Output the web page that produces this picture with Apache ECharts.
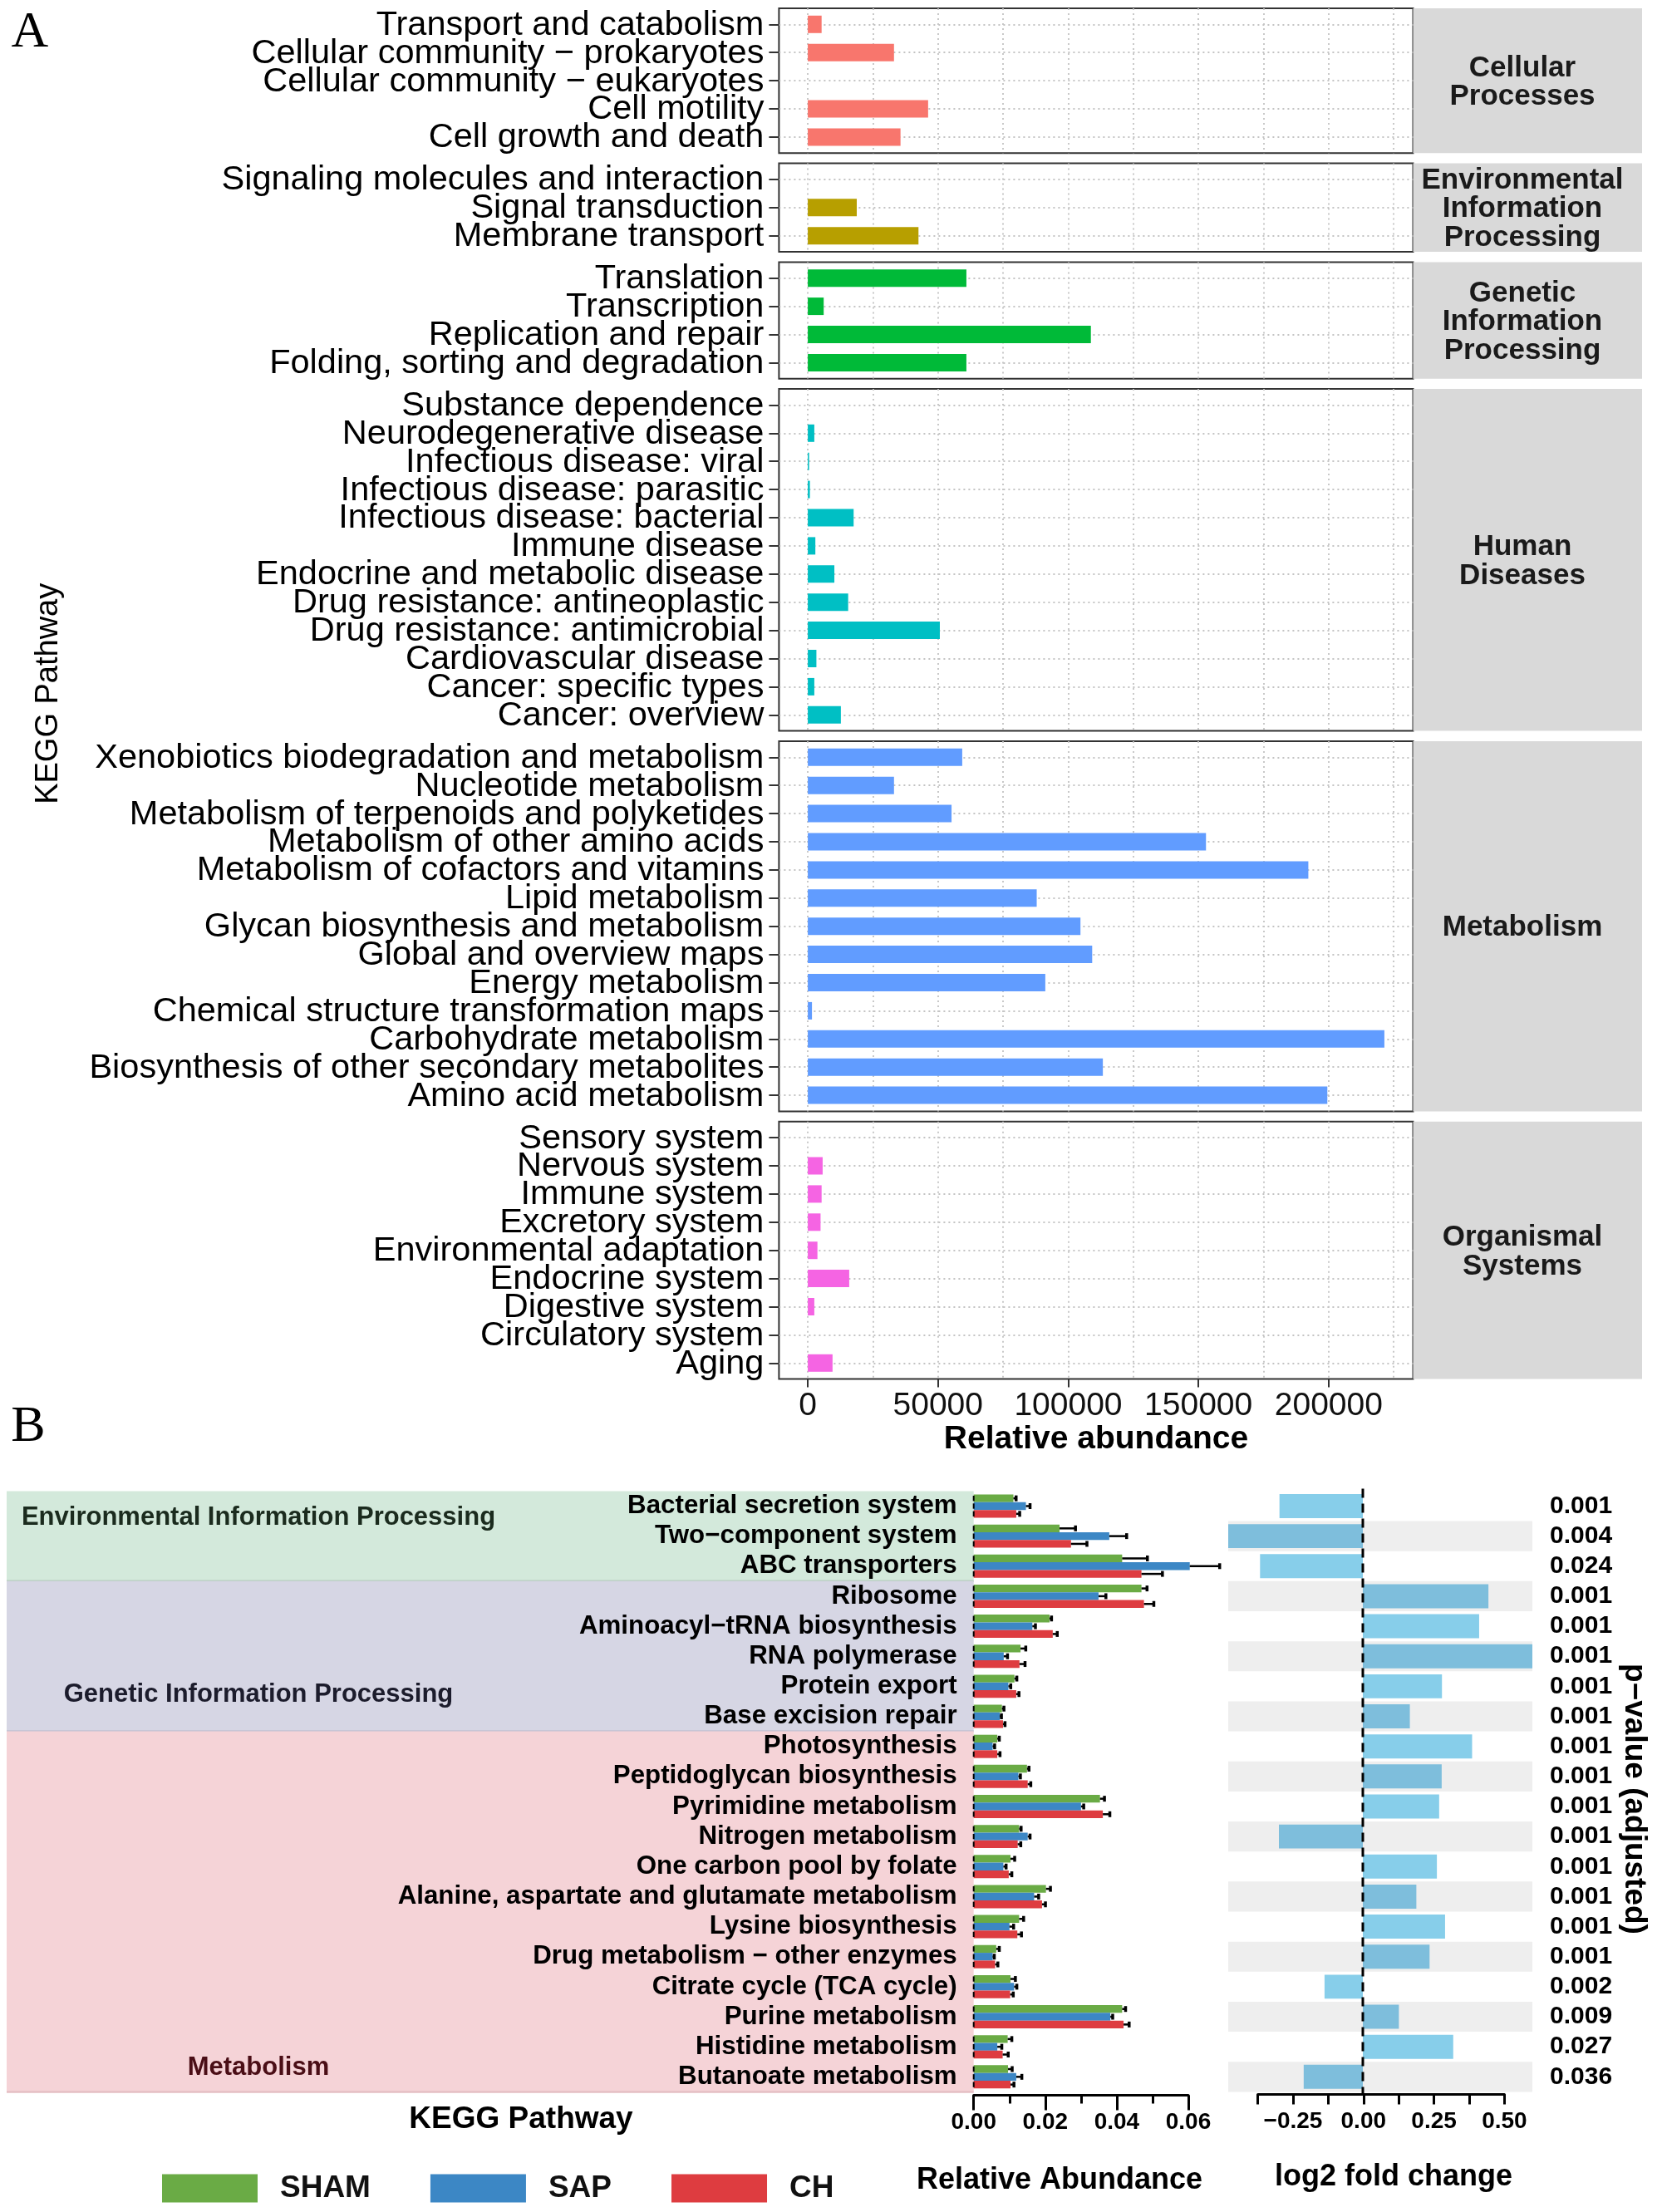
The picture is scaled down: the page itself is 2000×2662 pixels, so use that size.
<!DOCTYPE html>
<html><head><meta charset="utf-8">
<script src="https://cdn.jsdelivr.net/npm/echarts@6.0.0/dist/echarts.min.js"></script>
<style>html,body{margin:0;padding:0;background:#fff}#c{width:2000px;height:2662px}</style>
</head><body><div id="c"></div><script>
const FONT = '"Liberation Sans", Arial, Helvetica, sans-serif';
const SERIF = '"Liberation Serif", "Times New Roman", serif';

// ---------------- Panel A data ----------------
const cellularCats = ['Transport and catabolism','Cellular community \u2212 prokaryotes','Cellular community \u2212 eukaryotes','Cell motility','Cell growth and death'];
const cellularVals = [5300, 33100, 0, 46200, 35600];
const envCats = ['Signaling molecules and interaction','Signal transduction','Membrane transport'];
const envVals = [0, 18800, 42500];
const geneticCats = ['Translation','Transcription','Replication and repair','Folding, sorting and degradation'];
const geneticVals = [60900, 6100, 108700, 60900];
const humanCats = ['Substance dependence','Neurodegenerative disease','Infectious disease: viral','Infectious disease: parasitic','Infectious disease: bacterial','Immune disease','Endocrine and metabolic disease','Drug resistance: antineoplastic','Drug resistance: antimicrobial','Cardiovascular disease','Cancer: specific types','Cancer: overview'];
const humanVals = [0, 2500, 500, 800, 17600, 2900, 10200, 15500, 50700, 3300, 2500, 12700];
const metabCats = ['Xenobiotics biodegradation and metabolism','Nucleotide metabolism','Metabolism of terpenoids and polyketides','Metabolism of other amino acids','Metabolism of cofactors and vitamins','Lipid metabolism','Glycan biosynthesis and metabolism','Global and overview maps','Energy metabolism','Chemical structure transformation maps','Carbohydrate metabolism','Biosynthesis of other secondary metabolites','Amino acid metabolism'];
const metabVals = [59300, 33100, 55200, 152900, 192200, 87900, 104700, 109200, 91200, 1600, 221400, 113300, 199500];
const organCats = ['Sensory system','Nervous system','Immune system','Excretory system','Environmental adaptation','Endocrine system','Digestive system','Circulatory system','Aging'];
const organVals = [0, 5700, 5300, 4900, 3700, 15900, 2500, 0, 9500];
const stripLabels = ['Cellular\nProcesses','Environmental\nInformation\nProcessing','Genetic\nInformation\nProcessing','Human\nDiseases','Metabolism','Organismal\nSystems'];
const xTickLabelsA = [0, 50000, 100000, 150000, 200000];
const xGridValuesA = [0, 25000, 50000, 75000, 100000, 125000, 150000, 175000, 200000, 225000];

// ---------------- Panel B data ----------------
const catsB = ['Bacterial secretion system','Two\u2212component system','ABC transporters','Ribosome','Aminoacyl\u2212tRNA biosynthesis','RNA polymerase','Protein export','Base excision repair','Photosynthesis','Peptidoglycan biosynthesis','Pyrimidine metabolism','Nitrogen metabolism','One carbon pool by folate','Alanine, aspartate and glutamate metabolism','Lysine biosynthesis','Drug metabolism \u2212 other enzymes','Citrate cycle (TCA cycle)','Purine metabolism','Histidine metabolism','Butanoate metabolism'];
const shamMean = [0.0111,0.0240,0.0415,0.0469,0.0212,0.0131,0.0114,0.0079,0.0066,0.0149,0.0353,0.0127,0.0103,0.0202,0.0127,0.0063,0.0103,0.0415,0.0095,0.0096];
const shamErr  = [0.0007,0.0044,0.0070,0.0015,0.0005,0.0014,0.0006,0.0005,0.0005,0.0005,0.0012,0.0005,0.0011,0.0012,0.0012,0.0008,0.0013,0.0009,0.0011,0.0011];
const sapMean  = [0.0146,0.0379,0.0604,0.0349,0.0164,0.0084,0.0097,0.0073,0.0053,0.0125,0.0300,0.0151,0.0083,0.0169,0.0100,0.0053,0.0113,0.0382,0.0066,0.0119];
const sapErr   = [0.0011,0.0048,0.0083,0.0020,0.0008,0.0010,0.0006,0.0004,0.0005,0.0005,0.0007,0.0006,0.0007,0.0012,0.0011,0.0004,0.0007,0.0006,0.0012,0.0015];
const chMean   = [0.0119,0.0272,0.0469,0.0476,0.0221,0.0128,0.0119,0.0082,0.0066,0.0151,0.0361,0.0123,0.0098,0.0191,0.0122,0.0060,0.0102,0.0419,0.0081,0.0103];
const chErr    = [0.0009,0.0044,0.0058,0.0027,0.0012,0.0015,0.0007,0.0005,0.0007,0.0008,0.0019,0.0008,0.0008,0.0009,0.0011,0.0007,0.0008,0.0015,0.0015,0.0009];
const log2fc   = [-0.296,-0.478,-0.365,0.446,0.413,0.602,0.281,0.167,0.388,0.280,0.271,-0.298,0.263,0.190,0.292,0.237,-0.136,0.128,0.321,-0.210];
const pValues  = ['0.001','0.004','0.024','0.001','0.001','0.001','0.001','0.001','0.001','0.001','0.001','0.001','0.001','0.001','0.001','0.001','0.002','0.009','0.027','0.036'];
const groupNamesB = ['Environmental Information Processing','Genetic Information Processing','Metabolism'];
const groupSizesB = [3, 5, 12];
const groupNames = ['SHAM','SAP','CH'];

// ---------------- styling / layout ----------------
const colorsA = ['#F8766D','#B79F00','#00BA38','#00BFC4','#619CFF','#F564E3'];
const colorsB = ['#6AAB45','#3C87C5','#DE3C40'];
const bgB = ['#D3E9DB','#D6D6E4','#F5D3D7'];
const bgLineB = ['#B8CEC0','#C2C0D2','#E5BFC4'];
const bgTextB = ['#1B2B1E','#1C1C2C','#4A0E16'];
const bgLabelRow = [0.39, 6.29, 18.69];

const panelsA = [
  {cats: cellularCats, vals: cellularVals},
  {cats: envCats, vals: envVals},
  {cats: geneticCats, vals: geneticVals},
  {cats: humanCats, vals: humanVals},
  {cats: metabCats, vals: metabVals},
  {cats: organCats, vals: organVals}
];
const LA = {left: 937.4, width: 763.1, top: 10, rowH: 33.9, pad: 19.3, gap: 12.4, xmin: -11068, xmax: 232436, stripX: 1700.5, stripW: 275.5, stripTextX: 1832, barH: 21, labelGap: 18};
let t = LA.top;
panelsA.forEach(p => { p.top = t; p.h = (p.cats.length - 1) * LA.rowH + 2 * LA.pad; t += p.h + LA.gap; });

const grid = [], xAxis = [], yAxis = [], series = [], graphic = [];
const dotted = {color: '#C4C4C4', width: 1.8, type: [2, 4]};

panelsA.forEach((p, i) => {
  grid.push({left: LA.left, top: p.top, width: LA.width, height: p.h, show: true, borderColor: '#333', borderWidth: 2, backgroundColor: '#fff', containLabel: false});
  xAxis.push({type: 'value', gridIndex: i, min: LA.xmin, max: LA.xmax, position: 'bottom',
    axisLine: {show: false, onZero: false}, axisTick: {show: false, customValues: xGridValuesA}, axisLabel: {show: false},
    splitLine: {show: true, lineStyle: dotted}});
  const idx = p.cats.map((c, j) => j);
  const padU = LA.pad / LA.rowH;
  yAxis.push({type: 'value', gridIndex: i, inverse: true, min: -padU, max: p.cats.length - 1 + padU,
    axisLine: {show: false, onZero: false},
    axisTick: {show: true, customValues: idx, length: 12, lineStyle: {color: '#333', width: 2}},
    axisLabel: {show: false},
    splitLine: {show: true, lineStyle: dotted}});
  const col = colorsA[i];
  series.push({type: 'custom', xAxisIndex: i, yAxisIndex: i, clip: false, z: 3,
    data: p.vals.map((v, j) => [v, j]), encode: {x: 0, y: 1},
    renderItem: (params, api) => {
      const j = api.value(1);
      const a = api.coord([0, j]);
      const b = api.coord([api.value(0), j]);
      const cs = params.coordSys;
      return {type: 'group', children: [
        {type: 'rect', shape: {x: a[0], y: a[1] - LA.barH / 2, width: b[0] - a[0], height: LA.barH}, style: {fill: col}},
        {type: 'text', style: {text: p.cats[j], x: cs.x - LA.labelGap, y: a[1] + 1, fontSize: 41.5, fontFamily: FONT, fill: '#000',
          align: 'right', verticalAlign: 'middle', textAlign: 'right', textVerticalAlign: 'middle'}}
      ]};
    }});
  graphic.push({type: 'rect', shape: {x: LA.stripX, y: p.top, width: LA.stripW, height: p.h}, style: {fill: '#D9D9D9'}, z: 0});
  graphic.push({type: 'text', x: LA.stripTextX, y: p.top + p.h / 2 + 2,
    style: {text: stripLabels[i], fontSize: 35, fontWeight: 'bold', fontFamily: FONT, fill: '#1A1A1A', lineHeight: 34.5,
      align: 'center', verticalAlign: 'middle', textAlign: 'center', textVerticalAlign: 'middle'}});
});
// tick labels + title of panel A x-axis (index 6)
xAxis.push({type: 'value', gridIndex: 5, min: LA.xmin, max: LA.xmax, position: 'bottom',
  axisLine: {show: false, onZero: false},
  axisTick: {show: true, customValues: xTickLabelsA, length: 10, lineStyle: {color: '#333', width: 2}},
  axisLabel: {customValues: xTickLabelsA, formatter: v => String(v), fontSize: 39, color: '#111', margin: 13, fontFamily: FONT},
  splitLine: {show: false},
  name: 'Relative abundance', nameLocation: 'middle', nameGap: 52,
  nameTextStyle: {fontSize: 39, fontWeight: 'bold', color: '#000', fontFamily: FONT}});

// ---------------- Panel B ----------------
const LB = {top: 1794.4, rowH: 36.15, barsLeft: 1171.7, barsWidth: 258.3, fcLeft: 1478, fcWidth: 366, axLeft: 1513.6, axWidth: 296.8, bgLeft: 8, groupLabelX: 311};
const hB = catsB.length * LB.rowH;
const gB1 = 6, gB2 = 7, gB3 = 8;
grid.push({left: LB.barsLeft, top: LB.top, width: LB.barsWidth, height: hB});
grid.push({left: LB.fcLeft, top: LB.top, width: LB.fcWidth, height: hB});
grid.push({left: LB.axLeft, top: LB.top, width: LB.axWidth, height: hB});

// x axes: 7 (bars), 8 (fold change data), 9 (fold change axis)
xAxis.push({type: 'value', gridIndex: gB1, min: 0, max: 0.06, interval: 0.02, position: 'bottom', offset: 4,
  axisLine: {show: true, onZero: false, lineStyle: {color: '#000', width: 3}},
  axisTick: {show: true, length: 18, lineStyle: {color: '#000', width: 3}},
  minorTick: {show: true, splitNumber: 2, length: 10, lineStyle: {color: '#000', width: 3}},
  axisLabel: {formatter: v => v.toFixed(2), fontSize: 28, fontWeight: 'bold', color: '#000', margin: 19, fontFamily: FONT},
  splitLine: {show: false}});
xAxis.push({type: 'value', gridIndex: gB2, min: -0.478, max: 0.602, show: false});
xAxis.push({type: 'value', gridIndex: gB3, min: -0.375, max: 0.5, interval: 0.125, position: 'bottom', offset: 3,
  axisLine: {show: true, onZero: false, lineStyle: {color: '#000', width: 3}},
  axisTick: {show: true, length: 12, lineStyle: {color: '#000', width: 3}},
  axisLabel: {formatter: v => {
      const q = v / 0.25;
      if (Math.abs(q - Math.round(q)) > 1e-6 || v < -0.3) return '';
      return v < 0 ? '\u2212' + Math.abs(v).toFixed(2) : v.toFixed(2);
    }, fontSize: 28, fontWeight: 'bold', color: '#000', margin: 19, fontFamily: FONT, showMinLabel: true, showMaxLabel: true},
  splitLine: {show: false}});
const xB1 = 7, xB2 = 8, xB3 = 9;

// y axes: 6 (bars categories), 7 (fold change hidden), 8 (p-values right), 9 (axis grid hidden)
yAxis.push({type: 'category', gridIndex: gB1, data: catsB, inverse: true, z: 5,
  axisLine: {show: false, onZero: false}, axisTick: {show: false},
  axisLabel: {interval: 0, fontSize: 31.3, fontWeight: 'bold', color: '#000', margin: 20, fontFamily: FONT}});
yAxis.push({type: 'category', gridIndex: gB2, data: catsB, inverse: true, show: false});
yAxis.push({type: 'category', gridIndex: gB2, data: catsB, inverse: true, position: 'right',
  axisLine: {show: false, onZero: false}, axisTick: {show: false},
  axisLabel: {interval: 0, formatter: (v, i) => pValues[i], fontSize: 30, fontWeight: 'bold', color: '#000', margin: 21, fontFamily: FONT}});
yAxis.push({type: 'category', gridIndex: gB3, data: catsB, inverse: true, show: false});
const yB1 = 6, yB2 = 7, yB3 = 9;

// group backgrounds
let start = 0;
const groupData = groupSizesB.map((n, g) => { const d = [start, start + n - 1, g]; start += n; return d; });
series.push({type: 'custom', xAxisIndex: xB1, yAxisIndex: yB1, clip: false, z: 1, silent: true,
  data: groupData, encode: {x: 2, y: 0},
  renderItem: (params, api) => {
    const s = api.value(0), e = api.value(1), g = api.value(2);
    const a = api.coord([0, s]), b = api.coord([0, e]);
    const band = Math.abs(api.coord([0, 1])[1] - api.coord([0, 0])[1]);
    const y0 = a[1] - band / 2, y1 = b[1] + band / 2;
    const xr = a[0];
    return {type: 'group', children: [
      {type: 'rect', shape: {x: LB.bgLeft, y: y0, width: xr - LB.bgLeft, height: y1 - y0}, style: {fill: bgB[g]}},
      {type: 'line', shape: {x1: LB.bgLeft, y1: y1, x2: xr, y2: y1}, style: {stroke: bgLineB[g], lineWidth: 2.5}},
      {type: 'text', style: {text: groupNamesB[g], x: LB.groupLabelX, y: a[1] + (bgLabelRow[g] - s) * band,
        fontSize: 31, fontWeight: 'bold', fontFamily: FONT, fill: bgTextB[g],
        align: 'center', verticalAlign: 'middle', textAlign: 'center', textVerticalAlign: 'middle'}}
    ]};
  }});

// grouped bars with error bars
function groupSeries(k, means, errs) {
  const color = colorsB[k];
  return {type: 'custom', name: groupNames[k], xAxisIndex: xB1, yAxisIndex: yB1, clip: false, z: 6,
    itemStyle: {color: color},
    data: means.map((m, i) => [m, errs[i], i]), encode: {x: 0, y: 2},
    renderItem: (params, api) => {
      const i = api.value(2), m = api.value(0), e = api.value(1);
      const c0 = api.coord([0, i]), c1 = api.coord([m, i]), c2 = api.coord([m + e, i]);
      const band = Math.abs(api.coord([0, 1])[1] - api.coord([0, 0])[1]);
      const bh = band * 0.258;
      const yTop = c0[1] + (k - 1.5) * bh;
      const ym = yTop + bh / 2;
      return {type: 'group', children: [
        {type: 'rect', shape: {x: c0[0], y: yTop, width: c1[0] - c0[0], height: bh}, style: {fill: color}},
        {type: 'line', shape: {x1: c1[0], y1: ym, x2: c2[0], y2: ym}, style: {stroke: '#000', lineWidth: 2.5}},
        {type: 'rect', shape: {x: c2[0] - 1.5, y: ym - 3.5, width: 3.5, height: 7}, style: {fill: '#000'}},
        {type: 'rect', shape: {x: c0[0] - 1, y: yTop + 1.5, width: 2, height: bh - 3}, style: {fill: '#000'}}
      ]};
    }};
}
series.push(groupSeries(0, shamMean, shamErr));
series.push(groupSeries(1, sapMean, sapErr));
series.push(groupSeries(2, chMean, chErr));

// fold change stripes
series.push({type: 'custom', xAxisIndex: xB2, yAxisIndex: yB2, clip: false, z: 1, silent: true,
  data: catsB.map((c, i) => [0, i]).filter(d => d[1] % 2 === 1), encode: {x: 0, y: 1},
  renderItem: (params, api) => {
    const c = api.coord([0, api.value(1)]);
    const band = Math.abs(api.coord([0, 1])[1] - api.coord([0, 0])[1]);
    const cs = params.coordSys;
    return {type: 'rect', shape: {x: cs.x, y: c[1] - band / 2, width: cs.width, height: band}, style: {fill: '#EEEEEE'}};
  }});
// fold change bars
series.push({type: 'custom', xAxisIndex: xB2, yAxisIndex: yB2, clip: false, z: 3,
  data: log2fc.map((v, i) => [v, i]), encode: {x: 0, y: 1},
  renderItem: (params, api) => {
    const i = api.value(1);
    const a = api.coord([0, i]), b = api.coord([api.value(0), i]);
    const band = Math.abs(api.coord([0, 1])[1] - api.coord([0, 0])[1]);
    const h = band * 0.8;
    return {type: 'rect', shape: {x: Math.min(a[0], b[0]), y: a[1] - h / 2, width: Math.abs(b[0] - a[0]), height: h},
      style: {fill: i % 2 === 1 ? '#7EBEDC' : '#87CEEA'}};
  }});
// zero dashed line
series.push({type: 'custom', xAxisIndex: xB2, yAxisIndex: yB2, clip: false, z: 4, silent: true,
  data: [[0, 0]], encode: {x: 0, y: 1},
  renderItem: (params, api) => {
    const c = api.coord([api.value(0), 0]);
    const cs = params.coordSys;
    return {type: 'line', shape: {x1: c[0], y1: cs.y - 3, x2: c[0], y2: cs.y + cs.height + 3},
      style: {stroke: '#000', lineWidth: 3, lineDash: [11, 7]}};
  }});

// ---------------- free text ----------------
function txt(text, x, y, size, weight, opts) {
  return Object.assign({type: 'text', x: x, y: y, z: 10,
    style: {text: text, fontSize: size, fontWeight: weight, fontFamily: FONT, fill: '#000',
      align: 'center', verticalAlign: 'middle', textAlign: 'center', textVerticalAlign: 'middle'}}, opts || {});
}
graphic.push(txt('A', 36, 40, 62, 'normal'));
graphic[graphic.length - 1].style.fontFamily = SERIF;
graphic.push(txt('B', 34, 1718, 62, 'normal'));
graphic[graphic.length - 1].style.fontFamily = SERIF;
graphic.push(txt('KEGG Pathway', 59, (LA.top + t - LA.gap) / 2, 38, 'normal', {rotation: Math.PI / 2}));
graphic.push(txt('KEGG Pathway', 627, 2551, 37, 'bold'));
graphic.push(txt('Relative Abundance', 1275, 2624, 36, 'bold'));
graphic.push(txt('log2 fold change', 1677, 2620, 36, 'bold'));
graphic.push(txt('p\u2212value (adjusted)', 1966, 2165, 37, 'bold', {rotation: -Math.PI / 2}));

const chart = echarts.init(document.getElementById('c'), null, {renderer: 'canvas', width: 2000, height: 2662});
chart.setOption({
  animation: false,
  backgroundColor: '#fff',
  textStyle: {fontFamily: FONT},
  grid: grid, xAxis: xAxis, yAxis: yAxis, series: series, graphic: graphic,
  legend: {data: groupNames, left: 190, top: 2610, icon: 'rect', itemWidth: 115, itemHeight: 34, itemGap: 72,
    selectedMode: false, textStyle: {fontSize: 37, fontWeight: 'bold', color: '#111', padding: [0, 0, 0, 22], fontFamily: FONT}}
});
</script></body></html>
